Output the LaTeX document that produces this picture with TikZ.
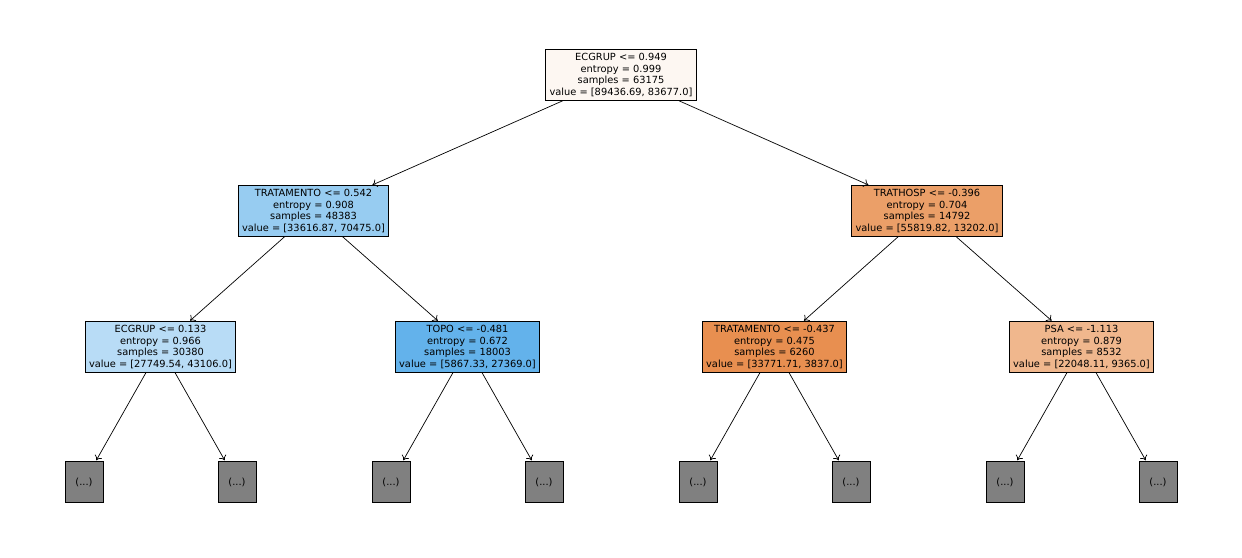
\documentclass[tikz,border=0pt]{standalone}
\usepackage{fontspec}
\setmainfont{DejaVu Sans}
\usetikzlibrary{arrows.meta}
\usetikzlibrary{math}
\definecolor{rootfill}{RGB}{253,247,242}
\definecolor{bluea}{RGB}{151,204,241}
\definecolor{blueb}{RGB}{184,220,246}
\definecolor{bluec}{RGB}{99,178,235}
\definecolor{orangea}{RGB}{235,159,104}
\definecolor{orangeb}{RGB}{232,143,80}
\definecolor{orangec}{RGB}{240,183,141}
\definecolor{leafgray}{RGB}{128,128,128}

\tikzset{
split/.style={draw, line width=0.5pt, align=center, inner xsep=2.2pt, inner ysep=1.9pt,
  font=\fontsize{5.6}{6.7}\selectfont},
leaf/.style={draw, line width=0.5pt, fill=leafgray, minimum width=0.76cm, minimum height=0.82cm,
  inner sep=0pt, font=\fontsize{5.6}{6.7}\selectfont},
edge/.style={line width=0.4pt,-{To[length=2.6pt,width=4.6pt]},shorten >=0.5pt}
}

\begin{document}
\begin{tikzpicture}[x=0.02cm,y=-0.02cm]
\tikzmath{
\ya=75; \yb=211; \yc=347; \yd=482;
}
\useasboundingbox (0,0) rectangle (1242,558);

\node[split, fill=rootfill] (root) at (621,\ya) {ECGRUP <= 0.949\\entropy = 0.999\\samples = 63175\\value = [89436.69, 83677.0]};

\node[split, fill=bluea] (l) at (313.5,\yb) {TRATAMENTO <= 0.542\\entropy = 0.908\\samples = 48383\\value = [33616.87, 70475.0]};
\node[split, fill=orangea] (r) at (927,\yb) {TRATHOSP <= -0.396\\entropy = 0.704\\samples = 14792\\value = [55819.82, 13202.0]};

\node[split, fill=blueb] (ll) at (160.5,\yc) {ECGRUP <= 0.133\\entropy = 0.966\\samples = 30380\\value = [27749.54, 43106.0]};
\node[split, fill=bluec] (lr) at (467.5,\yc) {TOPO <= -0.481\\entropy = 0.672\\samples = 18003\\value = [5867.33, 27369.0]};
\node[split, fill=orangeb] (rl) at (774.5,\yc) {TRATAMENTO <= -0.437\\entropy = 0.475\\samples = 6260\\value = [33771.71, 3837.0]};
\node[split, fill=orangec] (rr) at (1081.5,\yc) {PSA <= -1.113\\entropy = 0.879\\samples = 8532\\value = [22048.11, 9365.0]};

\draw[edge] (root) -- (l);
\draw[edge] (root) -- (r);
\draw[edge] (l) -- (ll);
\draw[edge] (l) -- (lr);
\draw[edge] (r) -- (rl);
\draw[edge] (r) -- (rr);

% truncated subtrees
\foreach \p/\x/\s in {ll/84/a,ll/237/b,lr/391/a,lr/544/b,rl/698/a,rl/851/b,rr/1005/a,rr/1158/b}{
  \node[leaf] (\p\s) at (\x,\yd) {(...)};
  \draw[edge] (\p) -- (\p\s);
}

\end{tikzpicture}
\end{document}
